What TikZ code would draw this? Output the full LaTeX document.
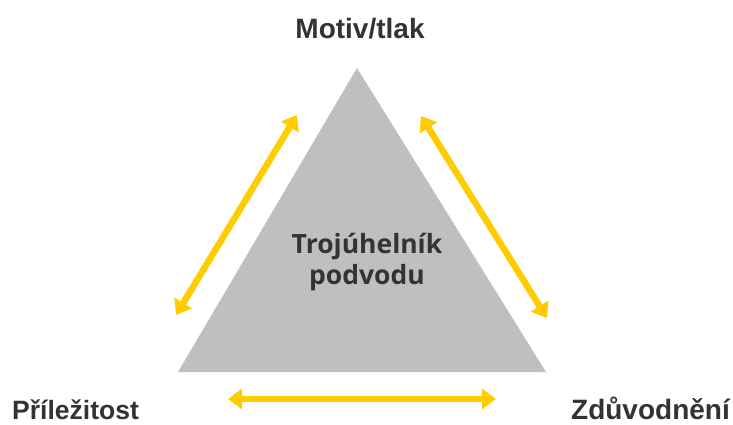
\documentclass[tikz,border=0pt]{standalone}
\usepackage{fontspec}
\setmainfont{Liberation Sans}
\newfontfamily\centerfont{Open Sans}
\usetikzlibrary{arrows.meta}
\definecolor{tri}{HTML}{BFBFBF}
\definecolor{yel}{HTML}{FFCC00}
\definecolor{txt}{HTML}{333333}
\begin{document}
\begin{tikzpicture}[x=1pt,y=-1pt,
  lbl/.style={text=txt,font=\fontsize{28}{30}\selectfont\bfseries,inner sep=0pt,text depth=0pt},
  dbl/.style={draw=yel,line width=6.5pt,{Triangle[width=20pt,length=14pt]}-{Triangle[width=20pt,length=14pt]}}]
\useasboundingbox (0,0) rectangle (733,425);
\fill[tri] (357,68) coordinate (apex) -- (178,372) coordinate (bl) -- (546,372) coordinate (br) -- cycle;
\node[lbl,anchor=base] (top) at (360,39) {Motiv/tlak};
\node[lbl,anchor=base west,font=\fontsize{26.5}{30}\selectfont\bfseries] (left) at (12,419) {Příležitost};
\node[lbl,anchor=base east] (right) at (730,419) {Zdůvodnění};
\node[text=txt,font=\fontsize{26.5}{31}\selectfont\centerfont\bfseries,align=center,inner sep=0pt] (center) at (367,262) {Trojúhelník\\podvodu};
\coordinate (l1) at (176,315); \coordinate (l2) at (297,115);
\coordinate (r1) at (421,116); \coordinate (r2) at (547,318);
\coordinate (b1) at (228,399); \coordinate (b2) at (496,399);
\draw[dbl] (l1) -- (l2);
\draw[dbl] (r1) -- (r2);
\draw[dbl] (b1) -- (b2);
\end{tikzpicture}
\end{document}
